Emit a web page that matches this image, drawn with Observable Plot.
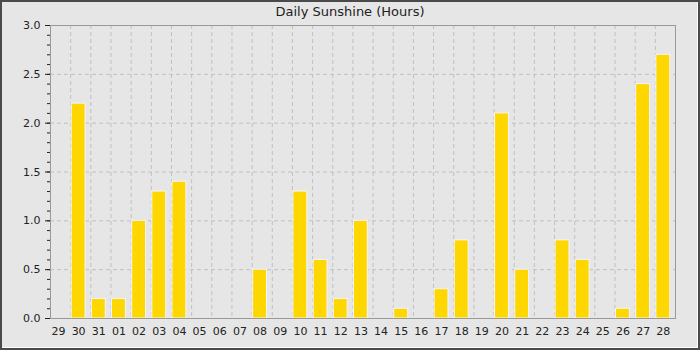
<!DOCTYPE html>
<html>
<head>
<meta charset="utf-8">
<script src="https://cdn.jsdelivr.net/npm/d3@7"></script>
<script src="https://cdn.jsdelivr.net/npm/@observablehq/plot@0.6"></script>
<style>
  html, body { margin: 0; padding: 0; background: #e6e6e6; }
  #wrap { position: relative; width: 700px; height: 350px; background: #e6e6e6; overflow: hidden; font-family: "DejaVu Sans", sans-serif; }
  #title { height: 18px; line-height: 24px; text-align: center; font-size: 13px; color: #222; white-space: nowrap; }
  #border { position: absolute; left: 0; top: 0; width: 700px; height: 350px; box-sizing: border-box; border: 2px solid #4a4a4a; box-shadow: inset -1px -1px 0 #ffffff; pointer-events: none; }
  svg { display: block; }
</style>
</head>
<body>
<div id="wrap">
  <div id="title">Daily Sunshine (Hours)</div>
  <div id="chart"></div>
  <div id="border"></div>
</div>
<script>
const days = ["29","30","31","01","02","03","04","05","06","07","08","09","10","11","12","13","14","15","16","17","18","19","20","21","22","23","24","25","26","27","28"];
const sunshine = [0, 2.2, 0.2, 0.2, 1.0, 1.3, 1.4, 0, 0, 0, 0.5, 0, 1.3, 0.6, 0.2, 1.0, 0, 0.1, 0, 0.3, 0.8, 0, 2.1, 0.5, 0, 0.8, 0.6, 0, 0.1, 2.4, 2.7];
const yTicks = [0, 0.5, 1.0, 1.5, 2.0, 2.5, 3.0];
const yGrid = [0.5, 1.0, 1.5, 2.0, 2.5];

const rows = days.map((d, i) => ({day: d, i, value: sunshine[i]}));
const n = days.length;
const xGrid = d3.range(1, n);
const minor = d3.range(0, 31).map(k => k / 10);

const plot = Plot.plot({
  width: 700,
  height: 332,
  marginTop: 7,
  marginBottom: 32,
  marginLeft: 50,
  marginRight: 25,
  style: {fontFamily: "DejaVu Sans, sans-serif", fontSize: "11px", color: "#222", background: "transparent", overflow: "visible"},
  x: {type: "linear", domain: [0, n]},
  y: {domain: [0, 3]},
  marks: [
    Plot.ruleY(yGrid, {stroke: "#c0c0c0", strokeDasharray: "4,3", strokeWidth: 1}),
    Plot.ruleX(xGrid, {stroke: "#c0c0c0", strokeDasharray: "4,3", strokeWidth: 1}),
    Plot.rectY(rows.filter(r => r.value > 0), {x1: d => d.i + 0.05, x2: d => d.i + 0.74, y1: 0, y2: "value", fill: "#ffd700", stroke: "#f4f4ff", strokeWidth: 1}),
    Plot.frame({stroke: "#999999"}),
    Plot.axisY({ticks: minor, tickSize: 3, tickFormat: null, text: null, label: null, stroke: "#222"}),
    Plot.axisY({ticks: yTicks, tickSize: 5, tickPadding: 5, tickFormat: d3.format(".1f"), label: null, stroke: "#222", fill: "#222"}),
    Plot.axisX({ticks: days.map((d, i) => i + 0.395), tickSize: 0, tickPadding: 9, tickFormat: v => days[Math.round(v - 0.395)], label: null, fill: "#222"})
  ]
});
document.getElementById("chart").appendChild(plot);
</script>
</body>
</html>
